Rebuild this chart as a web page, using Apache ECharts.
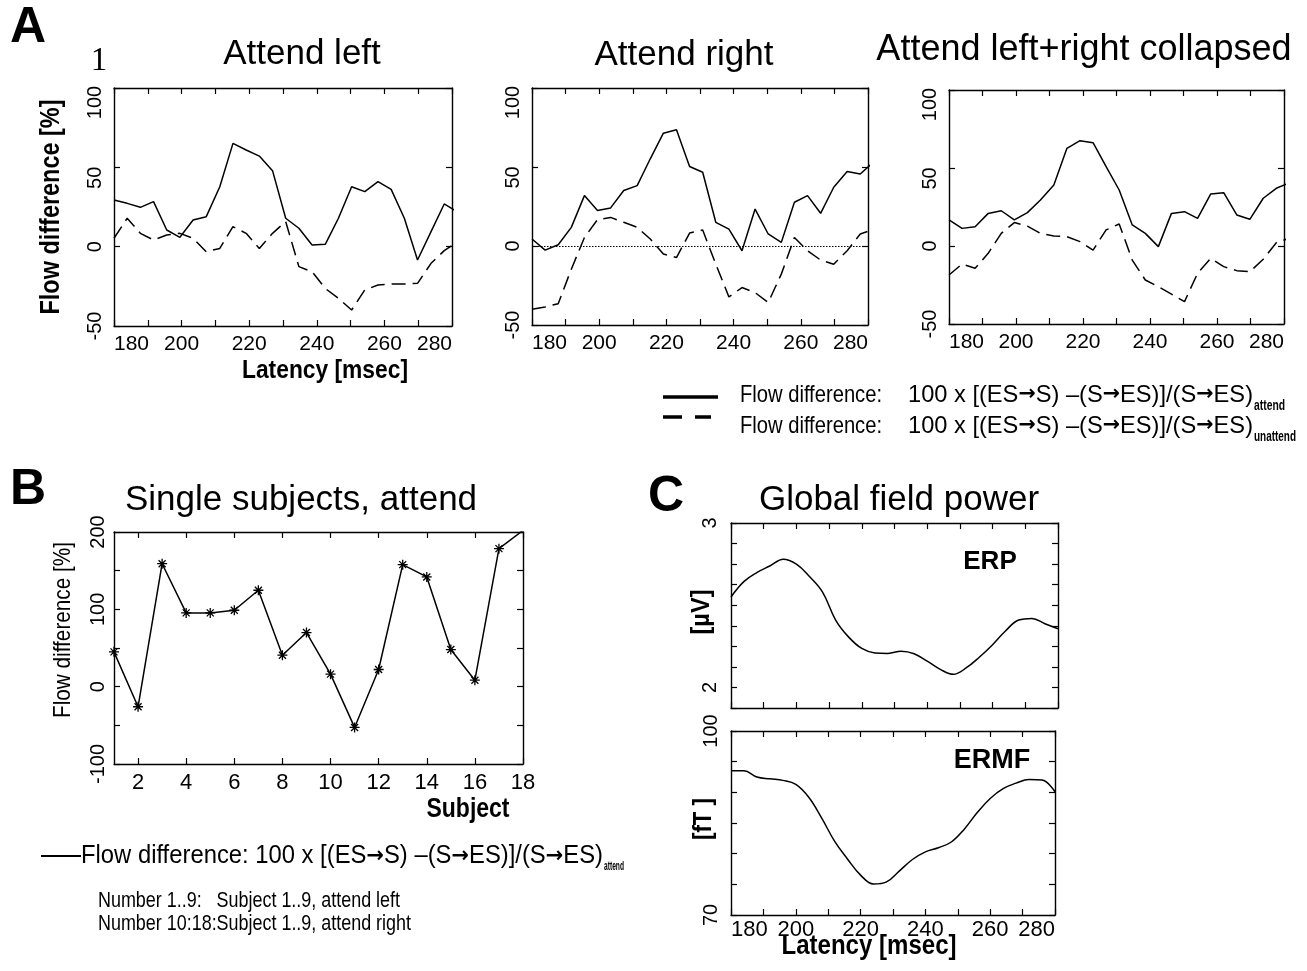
<!DOCTYPE html>
<html><head><meta charset="utf-8">
<script src="https://cdn.jsdelivr.net/npm/echarts@6/dist/echarts.min.js"></script>
<style>html,body{margin:0;padding:0;background:#fff}#c{width:1307px;height:971px}</style>
</head><body><div id="c"></div>
<script>
// ---------------- data ----------------
const latency = [180, 183.9, 187.8, 191.7, 195.6, 199.5, 203.4, 207.3, 211.3, 215.2, 219.1, 223.0, 226.9, 230.8, 234.7, 238.6, 242.5, 246.4, 250.3, 254.2, 258.1, 262.0, 265.9, 269.8, 273.8, 277.7, 281.6];
const leftAttend = [29.4, 27.3, 24.8, 28.4, 10.5, 5.9, 16.8, 18.9, 37.8, 65.1, 60.9, 57.1, 47.9, 17.9, 11.6, 1.1, 1.5, 17.9, 37.8, 34.7, 41.0, 36.1, 17.9, -8.4, 9.5, 26.9, 21.8];
const leftUnattend = [5.3, 17.9, 8.4, 4.2, 7.4, 8.4, 5.3, -3.2, -1.1, 12.6, 8.4, -1.1, 8.4, 15.8, -12.6, -15.8, -26.3, -32.6, -39.9, -27.3, -24.2, -23.5, -23.5, -23.1, -10.5, -2.5, 3.0];
const rightAttend = [4.4, -2.6, 0.8, 11.8, 31.9, 22.4, 24.1, 35.1, 38.2, 55.2, 71.4, 73.6, 50.3, 46.7, 15.0, 10.7, -3.0, 23.4, 7.6, 2.3, 27.7, 31.9, 20.7, 37.2, 47.1, 45.6, 53.0];
const rightUnattend = [-40.0, -38.6, -36.5, -14.7, 5.4, 16.7, 18.1, 15.0, 11.8, 4.4, -5.1, -7.3, 8.2, 10.1, -11.5, -32.2, -26.3, -29.5, -35.8, -17.8, 5.4, -3.0, -8.9, -11.5, -3.0, 7.6, 10.5];
const collapsedAttend = [16.7, 11.3, 12.4, 20.9, 22.6, 16.7, 21.4, 29.5, 39.1, 62.6, 67.5, 66.2, 50.9, 35.9, 13.5, 8.1, -0.4, 20.9, 22.0, 17.7, 33.3, 34.2, 19.9, 17.1, 30.6, 37.0, 40.5];
const collapsedUnattend = [-18.6, -11.5, -14.3, -4.7, 8.1, 15.0, 12.8, 8.1, 6.4, 6.0, 2.8, -2.6, 10.3, 14.1, -9.0, -21.8, -26.1, -30.8, -35.7, -17.5, -7.9, -13.2, -15.8, -16.5, -8.5, 2.1, 5.0];
const latencyTicks = [180, 200, 220, 240, 260, 280];
const flowTicks = [100, 50, 0, -50];

const subjects = [1, 2, 3, 4, 5, 6, 7, 8, 9, 10, 11, 12, 13, 14, 15, 16, 17, 18];
const subjectFlow = [45, -26, 159, 95.4, 95.4, 98.8, 124.7, 40.7, 70, 16.2, -52.7, 22.2, 157.8, 141.9, 48, 8.4, 178.5, 202];
const subjectTicks = [2, 4, 6, 8, 10, 12, 14, 16, 18];
const subjectFlowTicks = [200, 100, 0, -100];

const gfpLatency = [180, 184, 188, 192, 196, 200, 204, 208, 212, 216, 220, 224, 228, 232, 236, 240, 244, 248, 252, 256, 260, 264, 268, 272, 276, 280];
const erpGfp = [2.55, 2.645, 2.70, 2.74, 2.78, 2.75, 2.675, 2.58, 2.41, 2.306, 2.237, 2.21, 2.207, 2.22, 2.205, 2.16, 2.11, 2.08, 2.12, 2.185, 2.26, 2.345, 2.41, 2.42, 2.387, 2.357];
const ermfGfp = [93.5, 93.5, 92.5, 92.2, 91.95, 91.3, 89.2, 85.8, 82.0, 79.1, 76.5, 75.05, 75.4, 77.2, 79.05, 80.3, 80.97, 81.9, 84.0, 86.7, 89.0, 90.6, 91.5, 92.1, 92.0, 90.1];
const erpTicks = [2, 3];
const ermfTicks = [70, 100];

// ---------------- styles ----------------
const SANS = "'Liberation Sans',Arial,Helvetica,sans-serif";
const SERIF = "'Liberation Serif','Times New Roman',serif";
const ARROWFONT = "'DejaVu Sans',sans-serif";

const grids = [
  {left: 114, top: 88, width: 338, height: 238},
  {left: 532, top: 88, width: 336, height: 237},
  {left: 949, top: 90, width: 335, height: 234},
  {left: 114, top: 532, width: 409, height: 232},
  {left: 731, top: 523, width: 327, height: 185},
  {left: 731, top: 731, width: 324, height: 184}
];

function mkAxis(g, pos, min, max, interval, label, tickValues) {
  const a = {
    type: 'value', gridIndex: g, position: pos, min: min, max: max,
    axisLine: {show: true, onZero: false, lineStyle: {color: '#000', width: 1.4}},
    axisTick: {show: true, inside: true, length: 6, lineStyle: {color: '#000', width: 1.2}},
    splitLine: {show: false}, splitArea: {show: false},
    axisLabel: label ? Object.assign({show: true, color: '#000'}, label) : {show: false}
  };
  if (interval != null) a.interval = interval;
  if (tickValues) a.axisTick.customValues = tickValues;
  return a;
}

const latLabel = {
  fontFamily: SANS, fontSize: 21, margin: 8,
  formatter: v => latencyTicks.indexOf(v) >= 0 ? String(v) : '',
  alignMinLabel: 'left', alignMaxLabel: 'right'
};
const flowLabel = {
  rotate: 90, fontFamily: SANS, fontSize: 20, margin: 9,
  formatter: v => flowTicks.indexOf(v) < 0 ? '' : (v === 100 ? '{h3|100}' : v === 50 ? '{h2|50}' : '{n|' + v + '}'),
  rich: {
    h3: {fontFamily: SANS, fontSize: 20, padding: [0, 29, 0, 0]},
    h2: {fontFamily: SANS, fontSize: 20, padding: [0, 21, 0, 0]},
    n: {fontFamily: SANS, fontSize: 20}
  }
};

const xAxis = [], yAxis = [];
for (let g = 0; g < 3; g++) {
  xAxis.push(mkAxis(g, 'bottom', 180, 280, 10, latLabel));
  xAxis.push(mkAxis(g, 'top', 180, 280, 10, null));
  yAxis.push(mkAxis(g, 'left', -50, 100, 50, flowLabel));
  yAxis.push(mkAxis(g, 'right', -50, 100, 50, null));
}
// B
xAxis.push(mkAxis(3, 'bottom', 1, 18, null, {fontFamily: SANS, fontSize: 22, margin: 8, customValues: subjectTicks}, subjectTicks));
xAxis.push(mkAxis(3, 'top', 1, 18, null, null, subjectTicks));
yAxis.push(mkAxis(3, 'left', -100, 200, 50, {rotate: 90, fontFamily: SANS, fontSize: 20, margin: 6,
  formatter: v => subjectFlowTicks.indexOf(v) >= 0 ? String(v) : ''}));
yAxis.push(mkAxis(3, 'right', -100, 200, 50, null));
// C top
xAxis.push(mkAxis(4, 'bottom', 180, 280, 10, null));
xAxis.push(mkAxis(4, 'top', 180, 280, 10, null));
yAxis.push(mkAxis(4, 'left', 1.875, 3, 0.125, {rotate: 90, fontFamily: SANS, fontSize: 20, margin: 11,
  formatter: v => erpTicks.indexOf(v) >= 0 ? String(v) : ''}));
yAxis.push(mkAxis(4, 'right', 1.875, 3, 0.125, null));
// C bottom
xAxis.push(mkAxis(5, 'bottom', 180, 280, 10, {fontFamily: SANS, fontSize: 22, margin: 4,
  formatter: v => latencyTicks.indexOf(v) >= 0 ? String(v) : '', alignMinLabel: 'left', alignMaxLabel: 'right'}));
xAxis.push(mkAxis(5, 'top', 180, 280, 10, null));
yAxis.push(mkAxis(5, 'left', 70, 100, 5, {rotate: 90, fontFamily: SANS, fontSize: 20, margin: 10,
  formatter: v => ermfTicks.indexOf(v) >= 0 ? String(v) : ''}));
yAxis.push(mkAxis(5, 'right', 70, 100, 5, null));

function pairs(xs, ys) { return xs.map((x, i) => [x, ys[i]]); }
function lineSeries(g, xs, ys, dashed, extra) {
  return Object.assign({
    type: 'line', xAxisIndex: 2 * g, yAxisIndex: 2 * g, data: pairs(xs, ys),
    showSymbol: false, clip: true, silent: true,
    lineStyle: {color: '#000', width: 1.5, type: dashed ? [14, 7] : 'solid'},
    itemStyle: {color: '#000'}
  }, extra || {});
}

const series = [
  lineSeries(0, latency, leftAttend, false),
  lineSeries(0, latency, leftUnattend, true),
  lineSeries(1, latency, rightAttend, false, {
    markLine: {silent: true, symbol: 'none', label: {show: false},
      lineStyle: {color: '#000', width: 1, type: [1.5, 1.5]}, data: [{yAxis: 0}]}
  }),
  lineSeries(1, latency, rightUnattend, true),
  lineSeries(2, latency, collapsedAttend, false),
  lineSeries(2, latency, collapsedUnattend, true),
  {
    type: 'line', xAxisIndex: 6, yAxisIndex: 6, data: pairs(subjects, subjectFlow),
    clip: true, silent: true, showSymbol: true, showAllSymbol: true,
    symbol: 'path://M5,0L5,10M0,5L10,5M1.5,1.5L8.5,8.5M1.5,8.5L8.5,1.5', symbolSize: 10,
    lineStyle: {color: '#000', width: 1.5},
    itemStyle: {color: 'rgba(0,0,0,0)', borderColor: '#000', borderWidth: 1.3}
  },
  Object.assign(lineSeries(4, gfpLatency, erpGfp, false), {smooth: 0.4}),
  Object.assign(lineSeries(5, gfpLatency, ermfGfp, false), {smooth: 0.4})
];

// text helpers (condensed look via horizontal scaling to the measured width)
const _ctx = document.createElement('canvas').getContext('2d');
function measure(text, font) { _ctx.font = font; return _ctx.measureText(text).width; }

function txt(x, y, text, font, o) {
  o = o || {};
  const align = o.align || 'center', va = o.va || 'middle';
  return {
    type: 'text', x: x, y: y, rotation: o.rot || 0, scaleX: o.sx || 1, silent: true, z: 10,
    style: Object.assign({text: text, font: font, fill: '#000',
      align: align, verticalAlign: va, textAlign: align, textVerticalAlign: va}, o.style || {})
  };
}
function fitTxt(x, y, text, font, w, o) {
  o = Object.assign({}, o || {});
  o.sx = w / measure(text, font);
  return txt(x, y, text, font, o);
}
// formula with bold arrows, fitted to width w
function formulaTxt(x, y, prefix, size, w) {
  const mf = size + 'px ' + SANS;
  const af = 'bold ' + (size - 3) + 'px ' + ARROWFONT;
  const parts = [['m', prefix + '100 x [(ES'], ['a', '\u2192'], ['m', 'S) \u2013(S'], ['a', '\u2192'],
                 ['m', 'ES)]/(S'], ['a', '\u2192'], ['m', 'ES)']];
  let total = 0;
  parts.forEach(p => { total += measure(p[1], p[0] === 'm' ? mf : af); });
  const text = parts.map(p => '{' + p[0] + '|' + p[1] + '}').join('');
  return txt(x, y, text, mf, {align: 'left', sx: w / total, style: {rich: {
    m: {font: mf, lineHeight: size + 2, fill: '#000'},
    a: {font: af, lineHeight: size + 2, fill: '#000'}
  }}});
}

const R = Math.PI / 2;
const elements = [
  txt(28, 28, 'A', 'bold 50px ' + SANS),
  txt(99, 61, '1', '33px ' + SERIF),
  txt(302, 54, 'Attend left', '35px ' + SANS),
  txt(684, 55, 'Attend right', '35px ' + SANS),
  txt(1084, 50, 'Attend left+right collapsed', '36px ' + SANS),
  fitTxt(52, 207, 'Flow difference [%]', 'bold 27px ' + SANS, 215, {rot: R}),
  fitTxt(325, 371, 'Latency [msec]', 'bold 26px ' + SANS, 166),
  // legend A
  {type: 'line', silent: true, shape: {x1: 663, y1: 397, x2: 718, y2: 397}, style: {stroke: '#000', lineWidth: 3.5}},
  {type: 'line', silent: true, shape: {x1: 663, y1: 417, x2: 711, y2: 417}, style: {stroke: '#000', lineWidth: 3.5, lineDash: [19, 13]}},
  fitTxt(740, 395, 'Flow difference:', '24px ' + SANS, 142, {align: 'left'}),
  formulaTxt(908, 395, '', 24, 345),
  fitTxt(1254, 406, 'attend', 'bold 14px ' + SANS, 31, {align: 'left'}),
  fitTxt(740, 426, 'Flow difference:', '24px ' + SANS, 142, {align: 'left'}),
  formulaTxt(908, 426, '', 24, 345),
  fitTxt(1254, 437, 'unattend', 'bold 14px ' + SANS, 42, {align: 'left'}),
  // B
  txt(28, 490, 'B', 'bold 50px ' + SANS),
  txt(301, 500, 'Single subjects, attend', '35px ' + SANS),
  fitTxt(63, 630, 'Flow difference [%]', '24px ' + SANS, 176, {rot: R}),
  fitTxt(468, 810, 'Subject', 'bold 27px ' + SANS, 83),
  {type: 'line', silent: true, shape: {x1: 41, y1: 856, x2: 81, y2: 856}, style: {stroke: '#000', lineWidth: 2}},
  formulaTxt(81, 856, 'Flow difference: ', 25, 522),
  fitTxt(604, 866, 'attend', 'bold 13px ' + SANS, 20, {align: 'left'}),
  fitTxt(98, 901, 'Number 1..9:   Subject 1..9, attend left', '22px ' + SANS, 302, {align: 'left'}),
  fitTxt(98, 924, 'Number 10:18:Subject 1..9, attend right', '22px ' + SANS, 313, {align: 'left'}),
  // C
  txt(666, 497, 'C', 'bold 50px ' + SANS),
  txt(899, 500, 'Global field power', '35px ' + SANS),
  txt(990, 562, 'ERP', 'bold 26px ' + SANS),
  txt(992, 761, 'ERMF', 'bold 27px ' + SANS),
  fitTxt(702, 612, '[\u00b5V]', 'bold 26px ' + SANS, 45, {rot: R}),
  fitTxt(704, 819, '[fT ]', 'bold 26px ' + SANS, 42, {rot: R}),
  fitTxt(869, 946, 'Latency [msec]', 'bold 28px ' + SANS, 175)
];

const option = {
  animation: false,
  backgroundColor: '#fff',
  grid: grids.map(g => Object.assign({show: false, containLabel: false, outerBoundsMode: 'none'}, g)),
  xAxis: xAxis,
  yAxis: yAxis,
  series: series,
  graphic: {elements: elements}
};
const chart = echarts.init(document.getElementById('c'), null, {renderer: 'canvas'});
chart.setOption(option);
</script>
</body></html>
